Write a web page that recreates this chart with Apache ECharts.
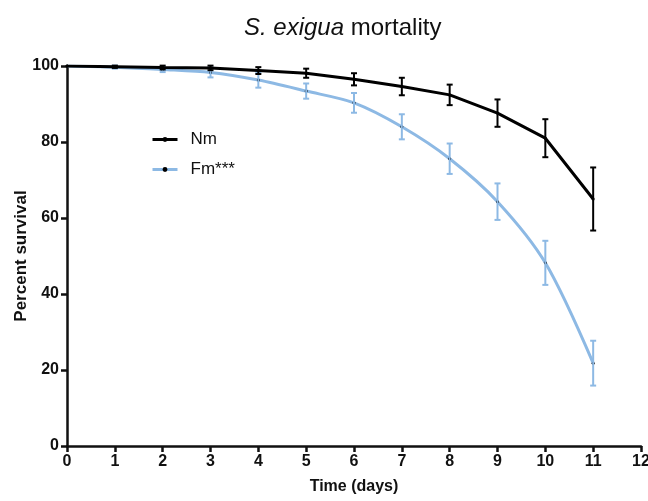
<!DOCTYPE html>
<html>
<head>
<meta charset="utf-8">
<script src="https://cdn.jsdelivr.net/npm/echarts@6/dist/echarts.min.js"></script>
<style>
  html, body { margin: 0; padding: 0; background: #fff; }
  #chartDom { width: 648px; height: 501px; }
</style>
</head>
<body>
<div id="chartDom"></div>
<script>
// survival data
var days = [0, 1, 2, 3, 4, 5, 6, 7, 8, 9, 10, 11];
var nmMean = [100, 99.8, 99.6, 99.5, 98.8, 98.1, 96.5, 94.6, 92.4, 87.6, 81.0, 65.0];
var nmErr = [0, 0.3, 0.5, 0.6, 0.9, 1.2, 1.6, 2.3, 2.7, 3.6, 5.0, 8.3];
var fmMean = [100, 99.7, 99.1, 98.3, 96.3, 93.4, 90.3, 84.0, 75.6, 64.3, 48.2, 21.8];
var fmErr = [0, 0.4, 0.7, 1.3, 2.0, 2.0, 2.6, 3.3, 4.0, 4.8, 5.8, 5.9];
var yTicks = [0, 20, 40, 60, 80, 100];

var font = 'Liberation Sans, Arial, sans-serif';
var blue = '#8db9e4';

function pairs(mean) {
  return days.map(function (d, i) { return [d, mean[i]]; });
}

function errorBars(name, mean, err, color) {
  return {
    type: 'custom',
    name: name,
    z: 4,
    silent: true,
    renderItem: function (params, api) {
      var x = api.value(0);
      var lo = api.coord([x, api.value(1)]);
      var hi = api.coord([x, api.value(2)]);
      var cap = 3;
      var st = { stroke: color, lineWidth: 2 };
      if (hi[1] === lo[1]) return null;
      return {
        type: 'group',
        children: [
          { type: 'line', shape: { x1: lo[0], y1: lo[1], x2: hi[0], y2: hi[1] }, style: st },
          { type: 'line', shape: { x1: hi[0] - cap, y1: hi[1], x2: hi[0] + cap, y2: hi[1] }, style: st },
          { type: 'line', shape: { x1: lo[0] - cap, y1: lo[1], x2: lo[0] + cap, y2: lo[1] }, style: st }
        ]
      };
    },
    data: days.map(function (d, i) { return [d, mean[i] - err[i], mean[i] + err[i]]; })
  };
}

var option = {
  animation: false,
  title: {
    text: '{i|S. exigua} mortality',
    left: 239,
    top: 11,
    textStyle: {
      fontFamily: font,
      fontSize: 24,
      fontWeight: 'normal',
      color: '#111',
      rich: {
        i: { fontFamily: font, fontSize: 24, fontStyle: 'italic', color: '#111' }
      }
    }
  },
  legend: {
    data: ['Nm', 'Fm***'],
    orient: 'vertical',
    left: 146,
    top: 126,
    itemWidth: 25,
    itemHeight: 6,
    itemGap: 13,
    lineStyle: { width: 3 },
    textStyle: { fontFamily: font, fontSize: 17, color: '#111', padding: [0, 0, 0, 8] }
  },
  grid: {
    left: 67, right: 7, top: 66, bottom: 55,
    outerBoundsMode: 'none'
  },
  xAxis: {
    type: 'value',
    min: 0, max: 12, interval: 1,
    name: 'Time (days)',
    nameLocation: 'middle',
    nameGap: 33,
    nameTextStyle: { fontFamily: font, fontSize: 16, fontWeight: 'bold', color: '#111' },
    axisLine: { lineStyle: { color: '#111', width: 2.5 } },
    axisTick: { length: 6, lineStyle: { color: '#111', width: 2.5 } },
    axisLabel: { fontFamily: font, fontSize: 16, fontWeight: 'bold', color: '#111', margin: 8 },
    splitLine: { show: false }
  },
  yAxis: {
    type: 'value',
    min: yTicks[0], max: yTicks[yTicks.length - 1], interval: 20,
    name: 'Percent survival',
    nameLocation: 'middle',
    nameGap: 37,
    nameMoveOverlap: false,
    nameTextStyle: { fontFamily: font, fontSize: 17, fontWeight: 'bold', color: '#111' },
    axisLine: { lineStyle: { color: '#111', width: 2.5 } },
    axisTick: { length: 6, lineStyle: { color: '#111', width: 2.5 } },
    axisLabel: { fontFamily: font, fontSize: 16, fontWeight: 'bold', color: '#111', margin: 8 },
    splitLine: { show: false }
  },
  series: [
    {
      name: 'Fm***',
      type: 'line',
      smooth: 0.3,
      data: pairs(fmMean),
      symbol: 'circle',
      symbolSize: 3,
      itemStyle: { color: '#000' },
      lineStyle: { color: blue, width: 3 },
      z: 3
    },
    errorBars('Fm err', fmMean, fmErr, blue),
    {
      name: 'Nm',
      type: 'line',
      data: pairs(nmMean),
      symbol: 'circle',
      symbolSize: 3,
      itemStyle: { color: '#000' },
      lineStyle: { color: '#000', width: 3 },
      z: 5
    },
    errorBars('Nm err', nmMean, nmErr, '#000')
  ]
};

var myChart = echarts.init(document.getElementById('chartDom'));
myChart.setOption(option);
</script>
</body>
</html>
